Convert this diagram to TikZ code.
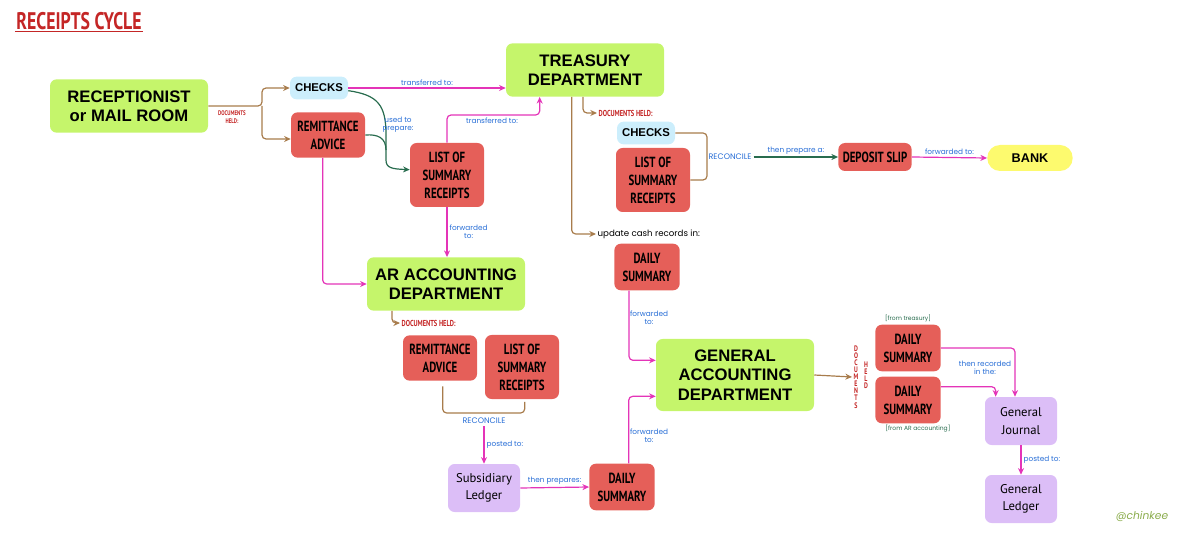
\documentclass[tikz,border=0pt]{standalone}
\usepackage{fontspec}
\setmainfont{Liberation Sans}
\newfontfamily\condfont[FakeStretch=0.74]{PT Sans}
\newfontfamily\plainfont{PT Sans}
\newfontfamily\handfont{Poppins}
\usepackage{xcolor}
\usetikzlibrary{arrows.meta}
\definecolor{rcgreen}{RGB}{197,245,107}
\definecolor{rcred}{RGB}{229,95,89}
\definecolor{rcsky}{RGB}{204,238,252}
\definecolor{rclilac}{RGB}{220,190,247}
\definecolor{rcyellow}{RGB}{253,250,110}
\definecolor{rcpink}{RGB}{228,52,184}
\definecolor{rcbrown}{RGB}{168,124,76}
\definecolor{rcpine}{RGB}{40,108,78}
\definecolor{rcblue}{RGB}{40,110,214}
\definecolor{rcink}{RGB}{196,38,38}

\begin{document}
\begin{tikzpicture}[
  x=0.75pt, y=-0.75pt,
  box/.style={rounded corners=5pt, align=center, inner sep=1pt},
  dept/.style={box, fill=rcgreen, minimum width=118.5pt, minimum height=40pt,
               font=\fontsize{12.5}{14.5}\selectfont\bfseries},
  doc/.style={box, fill=rcred, minimum width=55.5pt,
              font=\condfont\fontsize{11}{13.5}\selectfont\bfseries},
  chk/.style={box, fill=rcsky, minimum width=43.5pt, minimum height=17pt,
              font=\fontsize{8.5}{10}\selectfont\bfseries},
  book/.style={box, fill=rclilac, minimum width=54pt, minimum height=36pt,
               font=\plainfont\fontsize{9.5}{13}\selectfont},
  flow/.style={rcpink, line width=0.9pt, rounded corners=3pt,
               -{Stealth[length=5pt,width=4.5pt]}},
  held/.style={rcbrown, line width=0.9pt, rounded corners=3pt,
               -{Stealth[length=5pt,width=4.5pt]}},
  bracket/.style={rcbrown, line width=0.9pt, rounded corners=3pt},
  prep/.style={rcpine, line width=0.9pt, -{Stealth[length=5pt,width=4.5pt]}},
  note/.style={text=rcblue, font=\handfont\fontsize{5.5}{6}\selectfont, align=center, inner sep=1.5pt},
  tag/.style={text=rcink, font=\condfont\fontsize{6.5}{7}\selectfont\bfseries, align=center, inner sep=1pt}
]
\useasboundingbox (0,0) rectangle (1200,545);

% title
\node[text=rcink, font=\condfont\fontsize{18}{19}\selectfont\bfseries, inner sep=1pt] (title) at (79,21) {RECEIPTS CYCLE};
\draw[rcink, line width=0.7pt] (title.south west) -- (title.south east);

% receptionist and first split
\node[dept] (recv) at (129,106) {RECEPTIONIST\\or MAIL ROOM};
\node[chk] (chk1) at (319,88) {CHECKS};
\node[doc, minimum height=34pt] (rem1) at (328,135) {REMITTANCE\\ADVICE};
\node[doc, minimum height=48pt] (lst1) at (447,175) {LIST OF\\SUMMARY\\RECEIPTS};
\node[tag, font=\condfont\fontsize{5}{6}\selectfont\bfseries] (rdh) at (232,117) {DOCUMENTS\\HELD:};

\draw[held] (recv.east) -- (262,106) coordinate (split) |- (chk1.west);
\draw[held] (split) |- ([yshift=-3pt]rem1.west);

% treasury
\node[dept] (trs) at (585,70) {TREASURY\\DEPARTMENT};
\node[chk] (chk2) at (646,133) {CHECKS};
\node[doc, minimum height=48pt] (lst2) at (653,180) {LIST OF\\SUMMARY\\RECEIPTS};
\node[tag, anchor=west] (tdh) at (597,113) {DOCUMENTS HELD:};
\node[font=\handfont\fontsize{6.5}{7}\selectfont, anchor=west, inner sep=1pt] (upd) at (596,234) {update cash records in:};
\node[doc, minimum height=35pt, minimum width=49pt] (dsT) at (647,267) {DAILY\\SUMMARY};

\draw[flow] (chk1.east) -- (chk1.east -| trs.west)
  node[midway, above, note] {transferred to:};
\draw[prep] ([yshift=-2pt]chk1.east) .. controls (378,95) and (386,105) .. (386,135)
  -- (386,160) .. controls (386,168) and (392,169) .. ([yshift=4pt]lst1.west);
\draw[rcpine, line width=0.9pt] (rem1.east) .. controls (378,134) and (386,138) .. (386,150);
\node[note] (use) at (398,125) {used to\\prepare:};
\draw[flow] (lst1.north) -- (447,115) -| ([xshift=-34pt]trs.south);
\node[note] (trf) at (492,121) {transferred to:};
\draw[held] ([xshift=-1.5pt]trs.south) |- (tdh.west);
\draw[held] ([xshift=-10pt]trs.south) |- (upd.west);

% reconcile and bank
\coordinate (rec1) at (707,157);
\draw[bracket] (chk2.east) -| (rec1) |- (lst2.east);
\node[note, font=\handfont\fontsize{6}{7}\selectfont] (rcn1) at (730,157) {RECONCILE};
\node[doc, minimum height=21pt, minimum width=55pt] (dep) at (875,157) {DEPOSIT SLIP};
\node[box, fill=rcyellow, rounded corners=9.5pt, minimum width=64pt, minimum height=19.5pt,
      font=\fontsize{9.5}{11}\selectfont\bfseries] (bank) at (1030,158) {BANK};
\draw[prep] (rcn1.east) -- (dep.west) node[midway, above, note] {then prepare a:};
\draw[flow] (dep.east) -- (bank.west) node[midway, above, note] {forwarded to:};

% ar accounting
\node[dept] (ar) at (446,284) {AR ACCOUNTING\\DEPARTMENT};
\draw[flow] ([xshift=-4pt]rem1.south) |- (ar.west);
\draw[flow] (lst1.south) -- (lst1.south |- ar.north)
  node[midway, right, note] {forwarded\\to:};
\node[tag, anchor=west] (adh) at (400,323) {DOCUMENTS HELD:};
\draw[held] ([xshift=-40.5pt]ar.south) |- (adh.west);
\node[doc, minimum height=34pt] (rem2) at (440,358) {REMITTANCE\\ADVICE};
\node[doc, minimum height=48pt] (lst3) at (522,367) {LIST OF\\SUMMARY\\RECEIPTS};
\coordinate (rec2) at (484,413);
\draw[bracket] ([xshift=2pt,yshift=-4pt]rem2.south) |- (rec2) -| ([xshift=2pt,yshift=-2pt]lst3.south);
\node[note, font=\handfont\fontsize{6}{7}\selectfont] (rcn2) at (484,421) {RECONCILE};
\node[book] (sub) at (484,488) {Subsidiary\\Ledger};
\node[doc, minimum height=35pt, minimum width=49pt] (dsB) at (622,487) {DAILY\\SUMMARY};
\draw[flow] (rcn2.south) -- (sub.north) node[midway, right, note] {posted to:};
\draw[flow] (sub.east) -- (dsB.west) node[midway, above, note] {then prepares:};

% general accounting
\node[dept, minimum height=54pt] (ga) at (735,375) {GENERAL\\ACCOUNTING\\DEPARTMENT};
\draw[flow] ([xshift=-13.5pt]dsT.south) |- ([yshift=11pt]ga.west);
\node[note] (fw1) at (649,318) {forwarded\\to:};
\draw[flow] ([xshift=5pt]dsB.north) |- ([yshift=-16pt]ga.west);
\node[note] (fw2) at (649,436) {forwarded\\to:};
\node[tag, font=\condfont\fontsize{6}{5.3}\selectfont\bfseries] (gdh) at (856,377) {D\\O\\C\\U\\M\\E\\N\\T\\S};
\node[tag, font=\condfont\fontsize{6}{5.3}\selectfont\bfseries] (gdh2) at (866,375) {H\\E\\L\\D};
\draw[held] (ga.east) -- (gdh.west);

% daily summaries held and ledgers
\node[doc, minimum height=35pt, minimum width=49pt] (dsR1) at (908,348) {DAILY\\SUMMARY};
\node[doc, minimum height=35pt, minimum width=49pt] (dsR2) at (908,400) {DAILY\\SUMMARY};
\node[text=rcpine, font=\handfont\fontsize{4.5}{5}\selectfont, inner sep=1pt] (frt) at (908,318) {[from treasury]};
\node[text=rcpine, font=\handfont\fontsize{4.5}{5}\selectfont, inner sep=1pt] (fra) at (918,429) {[from AR accounting]};
\node[book] (gj) at (1021,421) {General\\Journal};
\node[book] (gl) at (1021,499) {General\\Ledger};
\draw[flow] (dsR1.east) -| ([xshift=-4.5pt]gj.north);
\draw[flow] ([yshift=10pt]dsR2.east) -| ([xshift=-19pt]gj.north);
\node[note] (rcd) at (985,368) {then recorded\\in the:};
\draw[flow] (gj.south) -- (gl.north) node[midway, right, note] {posted to:};

% signature
\node[text=rcgreen!70!black, font=\handfont\itshape\fontsize{8}{9}\selectfont] (sig) at (1142,517) {@chinkee};
\end{tikzpicture}
\end{document}
